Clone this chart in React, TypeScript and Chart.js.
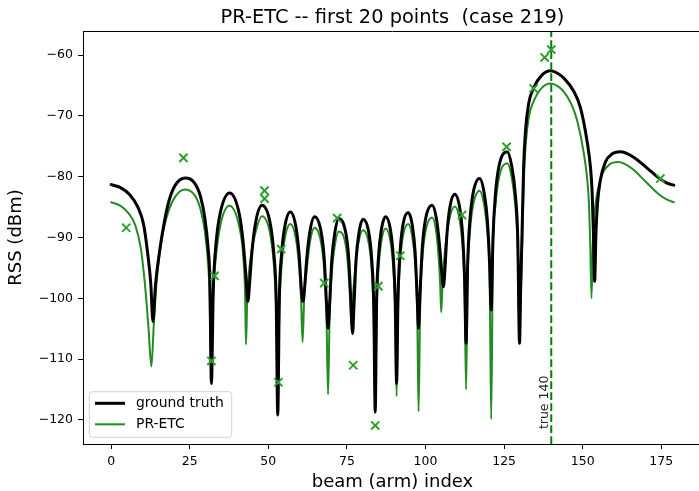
import React, { useEffect, useRef } from 'react';
import { Chart, registerables } from 'chart.js';

Chart.register(...registerables);

const FONT = "'DejaVu Sans', 'Liberation Sans', sans-serif";

const TITLE = 'PR-ETC -- first 20 points  (case 219)';
const X_LABEL = 'beam (arm) index';
const Y_LABEL = 'RSS (dBm)';
const X_TICKS = [0, 25, 50, 75, 100, 125, 150, 175];
const Y_TICKS = [-120, -110, -100, -90, -80, -70, -60];
const X_MIN = -8.95;
const X_MAX = 187.95;
const Y_MIN = -123.95;
const Y_MAX = -56.05;
const TRUE_IDX = 140;
const TRUE_LABEL_Y = -121.5;

// ground truth (key points)
const gtX = [
  0, 3, 6, 8.5, 10.3, 11.6, 12.6, 13.3, 14.1, 15.4, 16.9, 18.5, 20.5, 23.6, 26.5, 28.4, 29.8, 30.8, 31.4, 31.9,
  32.5, 33.4, 34.7, 37.7, 40.7, 42.0, 42.9, 43.5, 44.05, 44.8, 46.0, 48.0, 50.5, 51.7, 52.5, 53.0,
  53.5, 54.2, 55.2, 57.0, 58.8, 59.8, 60.5, 61.0, 61.5, 62.2, 63.2, 64.7, 66.8, 67.8, 68.5, 69.0,
  69.5, 70.2, 71.1, 72.4, 74.7, 75.6, 76.3, 76.8, 77.25, 77.9, 78.8, 80.1, 82.0, 82.9, 83.55, 84.0,
  84.45, 85.05, 85.9, 87.3, 88.9, 89.75, 90.35, 90.8, 91.25, 91.9, 92.8, 94.5, 95.8, 96.7, 97.35, 97.8,
  98.3, 99.0, 100.0, 102.1, 103.5, 104.5, 105.2, 105.7, 106.15, 106.8, 107.7, 109.3, 110.9, 111.8, 112.45, 112.9,
  113.4, 114.1, 115.1, 117.2, 118.7, 119.7, 120.4, 120.9, 121.45, 122.25, 123.4, 126.0, 127.4, 128.55, 129.35, 129.9,
  130.3, 130.7, 131.2, 131.8, 132.8, 134.4, 137.0, 139.8, 142.0, 144.0, 147.2, 149.3, 151.4, 152.5, 153.0, 153.4, 153.8,
  154.2, 154.7, 155.6, 157.2, 159.5, 162.0, 166.2, 170.5, 174.7, 177.0, 179.0,
];
const gtY = [
  -81.3, -81.8, -83.0, -85.0, -87.8, -92.5, -97.5, -103.8, -97.8, -92.3, -87.5, -83.8, -81.3, -80.2, -81.0, -83.2, -86.8, -91.5, -97.0, -114.0,
  -98.5, -90.8, -86.0, -82.7, -86.0, -90.8, -96.5, -100.5, -97.5, -92.3, -87.4, -84.7, -87.4, -92.3, -100.3, -119.2,
  -100.0, -92.8, -88.3, -85.8, -88.3, -92.8, -98.5, -100.5, -98.5, -93.6, -89.1, -86.6, -89.1, -93.6, -100.8, -104.9,
  -100.9, -93.6, -89.4, -86.9, -89.4, -93.6, -100.9, -105.8, -101.2, -93.7, -89.3, -87.0, -89.3, -93.7, -101.2, -118.7,
  -100.3, -93.2, -88.9, -86.6, -88.9, -93.2, -100.3, -114.0, -99.9, -92.4, -88.0, -85.9, -88.0, -92.4, -99.9, -104.9,
  -98.8, -91.5, -87.0, -84.7, -87.0, -91.5, -96.0, -98.1, -95.5, -89.6, -85.2, -82.9, -85.2, -89.6, -97.1, -107.4,
  -94.5, -87.3, -82.8, -80.3, -82.8, -87.3, -94.5, -101.9, -90.3, -82.8, -78.2, -75.9, -78.2, -82.8, -90.3, -107.4,
  -97.5, -89.5, -78.5, -72.5, -68.0, -65.4, -63.3, -62.6, -63.0, -63.8, -66.0, -68.7, -74.2, -78.6, -82.5, -89.0, -97.2,
  -89.5, -84.5, -80.6, -77.6, -76.2, -75.9, -76.8, -78.6, -80.4, -81.1, -81.4,
];

// PR-ETC estimate (key points)
const prX = [
  0, 3, 5.5, 7.7, 9.5, 10.9, 11.9, 12.8, 13.6, 14.5, 15.6, 17.0, 18.5, 20.5, 23.4, 26.5, 28.4, 29.8, 30.8, 31.3, 31.8,
  32.4, 33.4, 34.7, 37.6, 40.7, 42.0, 42.6, 42.9, 43.3, 44.2, 45.9, 48.0, 50.5, 51.7, 52.5, 53.0,
  53.5, 54.2, 55.2, 57.0, 58.8, 59.8, 60.4, 60.9, 61.4, 62.2, 63.2, 64.7, 66.8, 67.8, 68.5, 69.0,
  69.5, 70.2, 71.1, 72.4, 74.7, 75.5, 76.0, 76.4, 76.85, 77.6, 78.6, 80.1, 82.0, 82.9, 83.5, 84.0,
  84.45, 85.05, 85.9, 87.3, 88.9, 89.75, 90.35, 90.8, 91.25, 91.9, 92.8, 94.5, 95.8, 96.7, 97.35, 97.8,
  98.3, 99.0, 100.0, 102.1, 103.4, 104.2, 104.65, 105.0, 105.45, 106.3, 107.5, 109.3, 110.9, 111.8, 112.45, 112.9,
  113.4, 114.1, 115.1, 117.2, 118.7, 119.7, 120.4, 120.9, 121.45, 122.25, 123.4, 126.0, 127.4, 128.55, 129.35, 129.8,
  130.3, 130.8, 131.3, 131.9, 132.9, 134.5, 137.0, 139.8, 142.0, 144.0, 146.5, 148.3, 150.4, 151.5, 152.0, 152.4, 152.8,
  153.2, 153.7, 154.6, 156.2, 158.5, 161.3, 165.5, 170.0, 174.5, 177.0, 179.0,
];
const prY = [
  -84.2, -84.8, -86.0, -88.0, -92.0, -98.5, -105.0, -111.2, -104.0, -97.0, -92.0, -88.0, -85.3, -83.2, -82.1, -83.0, -85.3, -89.0, -94.0, -99.0, -112.0,
  -100.0, -92.9, -88.1, -84.8, -88.1, -92.9, -99.0, -107.6, -100.0, -94.0, -89.2, -86.5, -89.2, -94.1, -102.0, -116.0,
  -102.0, -94.8, -90.3, -87.8, -90.3, -94.8, -100.0, -107.2, -100.0, -95.4, -90.9, -88.4, -90.9, -95.4, -103.0, -115.8,
  -103.0, -95.7, -91.5, -89.0, -91.5, -95.7, -100.0, -104.5, -100.0, -95.5, -91.1, -88.8, -91.1, -95.5, -103.0, -117.0,
  -102.2, -95.1, -90.8, -88.5, -90.8, -95.1, -102.2, -116.1, -101.8, -94.3, -89.9, -87.8, -89.9, -94.3, -101.8, -118.6,
  -100.8, -93.5, -89.0, -86.7, -89.0, -93.5, -97.5, -102.3, -97.0, -91.6, -87.2, -84.9, -87.2, -91.6, -99.1, -115.0,
  -96.5, -89.3, -84.8, -82.3, -84.8, -89.3, -96.5, -119.9, -92.2, -84.7, -80.1, -77.8, -80.1, -84.7, -92.2, -105.0,
  -100.0, -90.0, -80.5, -74.5, -70.1, -67.5, -65.4, -64.7, -65.1, -66.0, -68.2, -70.9, -76.3, -80.7, -84.6, -91.0, -100.0,
  -91.5, -86.5, -82.7, -79.6, -78.0, -77.6, -78.6, -80.8, -83.0, -83.8, -84.2,
];

// the first 20 measured points
const ptX = [4.8, 23.0, 31.9, 32.9, 48.8, 48.8, 53.2, 54.1, 67.8, 71.9, 77.0, 84.0, 85.0, 92.0, 111.6, 125.8, 134.4, 137.9, 140.0, 174.7];
const ptY = [-88.4, -76.9, -110.3, -96.3, -82.3, -83.6, -113.8, -91.9, -97.5, -86.8, -111.0, -120.9, -98.0, -93.0, -86.3, -75.1, -65.5, -60.4, -59.1, -80.3];

const GT_COLOR = '#000000';
const PR_COLOR = '#228b22';
const PT_COLOR = '#2ca02c';
const VLINE_COLOR = '#008000';

const toXY = (xs: number[], ys: number[]) => xs.map((x, i) => ({ x, y: ys[i] }));
const fmt = (v: number) => (v < 0 ? '\u2212' + Math.abs(v) : String(v));

const decor = {
  id: 'decor',
  afterDatasetsDraw(chart: any) {
    const { ctx, chartArea: ca, scales } = chart;
    const xs = scales.x;
    const ys = scales.y;
    const px = xs.getPixelForValue(TRUE_IDX);
    ctx.save();
    ctx.beginPath();
    ctx.rect(ca.left, ca.top, ca.right - ca.left, ca.bottom - ca.top);
    ctx.clip();
    ctx.strokeStyle = VLINE_COLOR;
    ctx.lineWidth = 2;
    ctx.setLineDash([7.7, 3.3]);
    ctx.beginPath();
    ctx.moveTo(px, ca.bottom);
    ctx.lineTo(px, ca.top);
    ctx.stroke();
    ctx.setLineDash([]);
    ctx.translate(px - 3.3, ys.getPixelForValue(TRUE_LABEL_Y));
    ctx.rotate(-Math.PI / 2);
    ctx.font = `12.5px ${FONT}`;
    ctx.fillStyle = '#222';
    ctx.textAlign = 'left';
    ctx.textBaseline = 'alphabetic';
    ctx.fillText(`true ${TRUE_IDX}`, 0, 0);
    ctx.restore();
  },
  afterDraw(chart: any) {
    const { ctx, chartArea: ca } = chart;
    ctx.save();
    // top + right spines
    ctx.strokeStyle = '#000';
    ctx.lineWidth = 1;
    ctx.beginPath();
    ctx.moveTo(ca.left, ca.top + 0.5);
    ctx.lineTo(ca.right, ca.top + 0.5);
    ctx.lineTo(ca.right, ca.bottom);
    ctx.stroke();
    // title
    ctx.font = `19.4px ${FONT}`;
    ctx.fillStyle = '#000';
    ctx.textAlign = 'center';
    ctx.textBaseline = 'alphabetic';
    ctx.fillText(TITLE, (ca.left + ca.right) / 2, ca.top - 8.3);
    // legend
    const bw = 142.4;
    const bh = 45.6;
    const bx = ca.left + 6.3;
    const by = ca.bottom - 6.7 - bh;
    const r = 3;
    ctx.beginPath();
    ctx.moveTo(bx + r, by);
    ctx.lineTo(bx + bw - r, by);
    ctx.arcTo(bx + bw, by, bx + bw, by + r, r);
    ctx.lineTo(bx + bw, by + bh - r);
    ctx.arcTo(bx + bw, by + bh, bx + bw - r, by + bh, r);
    ctx.lineTo(bx + r, by + bh);
    ctx.arcTo(bx, by + bh, bx, by + bh - r, r);
    ctx.lineTo(bx, by + r);
    ctx.arcTo(bx, by, bx + r, by, r);
    ctx.closePath();
    ctx.fillStyle = 'rgba(255,255,255,0.8)';
    ctx.fill();
    ctx.strokeStyle = '#d0d0d0';
    ctx.lineWidth = 1;
    ctx.stroke();
    const items = chart.data.datasets.filter((d: any) => d.label);
    items.forEach((d: any, i: number) => {
      const yy = by + 11.6 + i * 21;
      ctx.strokeStyle = d.borderColor;
      ctx.lineWidth = d.borderWidth;
      ctx.beginPath();
      ctx.moveTo(bx + 5.7, yy);
      ctx.lineTo(bx + 35.7, yy);
      ctx.stroke();
      ctx.fillStyle = '#000';
      ctx.font = `13.9px ${FONT}`;
      ctx.textAlign = 'left';
      ctx.textBaseline = 'middle';
      ctx.fillText(d.label, bx + 46.7, yy);
    });
    ctx.restore();
  },
};

export default function App() {
  const ref = useRef<HTMLCanvasElement>(null);
  useEffect(() => {
    if (!ref.current) return;
    const tickFont = { family: FONT, size: 12.5 };
    const titleFont = { family: FONT, size: 18, lineHeight: 1 };
    const chart = new Chart(ref.current, {
      type: 'scatter',
      data: {
        datasets: [
          {
            label: '',
            data: toXY(ptX, ptY),
            showLine: false,
            pointStyle: 'crossRot',
            pointRadius: 5.8,
            pointBorderWidth: 2,
            pointBorderColor: PT_COLOR,
            pointBackgroundColor: PT_COLOR,
            borderColor: PT_COLOR,
            order: 0,
          },
          {
            label: 'ground truth',
            data: toXY(gtX, gtY),
            showLine: true,
            borderColor: GT_COLOR,
            borderWidth: 3,
            pointRadius: 0,
            cubicInterpolationMode: 'monotone',
            borderJoinStyle: 'round',
            borderCapStyle: 'round',
            order: 1,
          },
          {
            label: 'PR-ETC',
            data: toXY(prX, prY),
            showLine: true,
            borderColor: PR_COLOR,
            borderWidth: 2,
            pointRadius: 0,
            cubicInterpolationMode: 'monotone',
            borderJoinStyle: 'round',
            borderCapStyle: 'round',
            order: 2,
          },
        ] as any,
      },
      options: {
        responsive: false,
        animation: false,
        events: [],
        layout: { padding: { top: 31, left: 0, right: 0, bottom: 0 }, autoPadding: false },
        plugins: {
          legend: { display: false },
          title: { display: false },
          tooltip: { enabled: false },
        },
        scales: {
          x: {
            type: 'linear',
            min: X_MIN,
            max: X_MAX,
            afterBuildTicks: (s: any) => {
              s.ticks = X_TICKS.map((v) => ({ value: v }));
            },
            afterFit: (s: any) => {
              s.height = 47;
              s.paddingLeft = 0;
              s.paddingRight = 0;
            },
            ticks: { font: tickFont, color: '#000', padding: 5, maxRotation: 0, autoSkip: false, callback: (v: any) => fmt(Number(v)) },
            grid: { display: true, drawOnChartArea: false, drawTicks: true, tickLength: 5, color: '#000', lineWidth: 1 },
            border: { display: true, color: '#000', width: 1 },
            title: { display: true, text: X_LABEL, font: titleFont, color: '#000', padding: { top: 0, bottom: 0 } },
          },
          y: {
            type: 'linear',
            min: Y_MIN,
            max: Y_MAX,
            afterBuildTicks: (s: any) => {
              s.ticks = Y_TICKS.map((v) => ({ value: v }));
            },
            afterFit: (s: any) => {
              s.width = 83;
              s.paddingTop = 0;
              s.paddingBottom = 0;
            },
            ticks: { font: tickFont, color: '#000', padding: 5, autoSkip: false, callback: (v: any) => fmt(Number(v)) },
            grid: { display: true, drawOnChartArea: false, drawTicks: true, tickLength: 5, color: '#000', lineWidth: 1 },
            border: { display: true, color: '#000', width: 1 },
            title: { display: true, text: Y_LABEL, font: titleFont, color: '#000', padding: { top: 7.5, bottom: 0 } },
          },
        },
      } as any,
      plugins: [decor],
    });
    return () => chart.destroy();
  }, []);
  return (
    <div style={{ position: 'fixed', left: 0, top: 0, width: 699, height: 491, overflow: 'hidden', background: '#fff' }}>
      <canvas ref={ref} width={702} height={491} style={{ display: 'block', width: 702, height: 491 }} />
    </div>
  );
}
